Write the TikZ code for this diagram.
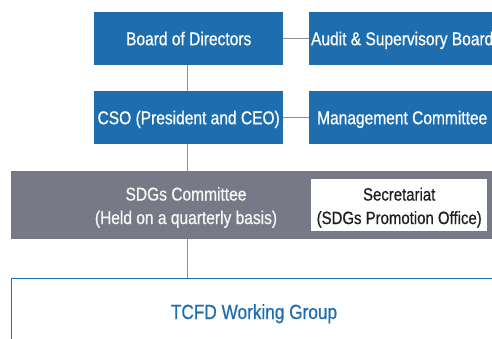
\documentclass[tikz,border=0pt]{standalone}
\usepackage{fontspec}
\setmainfont{Liberation Sans}[FakeStretch=0.84, FakeBold=0.6]
\definecolor{orgblue}{HTML}{1E6DAF}
\definecolor{bandgrey}{HTML}{777A86}
\definecolor{linkgrey}{HTML}{8C8F99}
\definecolor{darktext}{HTML}{1E1E1E}
\begin{document}
\begin{tikzpicture}[x=1pt,y=-1pt,
  bluebox/.style={fill=orgblue, text=white, minimum width=#1, minimum height=53pt,
    inner sep=0pt, anchor=north west, text height=13pt, text depth=0pt,
    font=\fontsize{18.5}{22}\selectfont},
  bluebox/.default=189pt,
  twoline/.style={align=center, inner sep=0pt, font=\fontsize{#1}{23.5}\selectfont},
  twoline/.default=18.5,
  link/.style={draw=linkgrey, line width=1.3pt}]
  \clip (0,0) rectangle (492,339);
  \useasboundingbox (0,0) rectangle (492,339);

  % management chain
  \node[bluebox] (board) at (94,12) {Board of Directors};
  \node[bluebox=186pt] (audit) at (309,12) {Audit \& Supervisory Board};
  \node[bluebox] (cso) at (94,91) {CSO (President and CEO)};
  \node[bluebox=186pt] (mgmt) at (309,91) {Management Committee};

  % SDGs committee band with its secretariat
  \node[fill=bandgrey, minimum width=500pt, minimum height=67.5pt, inner sep=0pt,
        anchor=north west] (band) at (11,171) {};
  \node[twoline, text=white!94!bandgrey] (sdgs) at (186,207.5)
        {SDGs Committee\\(Held on a quarterly basis)};
  \node[fill=white, minimum width=176pt, minimum height=52pt, inner sep=0pt,
        anchor=north west] (secbox) at (311,179) {};
  \node[twoline=17.8, text=darktext] (sec) at ([yshift=-2.5pt]secbox.center)
        {Secretariat\\(SDGs Promotion Office)};

  % working group
  \node[draw=orgblue, line width=1.3pt, minimum width=486pt, minimum height=100pt,
        inner sep=0pt, anchor=north west] (tcfd) at (11,277.7) {};
  \node[text=orgblue, anchor=base, inner sep=0pt, font=\fontsize{20.5}{24}\selectfont]
        (tcfdlabel) at (254,319) {TCFD Working Group};

  % connectors
  \draw[link] (board.east) -- (audit.west);
  \draw[link] (cso.east) -- (mgmt.west);
  \draw[link] ([xshift=-1.5pt]board.south) -- ([xshift=-1.5pt]cso.north);
  \draw[link] ([xshift=-1.5pt]cso.south) -- ([xshift=-1.5pt]cso.south |- band.north);
  \draw[link] ([xshift=-1.5pt]cso.south |- band.south) -- ([xshift=-1.5pt]cso.south |- tcfd.north);
\end{tikzpicture}
\end{document}
